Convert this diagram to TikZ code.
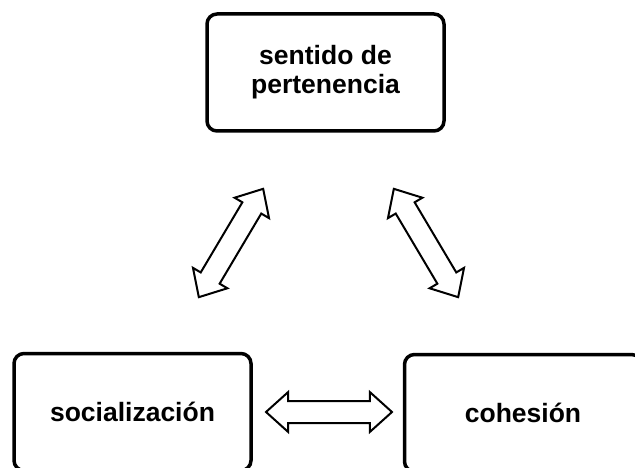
\documentclass[tikz,border=0pt]{standalone}
\usepackage{fontspec}
\setmainfont{Liberation Sans}
\usetikzlibrary{
  shapes.arrows,
  calc
}

\begin{document}
\begin{tikzpicture}[x=1pt,y=1pt,
	concept/.style={draw,line width=3.5pt,rounded corners=10pt,minimum width=237pt,minimum height=117pt,align=center,font=\fontsize{26.5}{29}\selectfont\bfseries},
	link/.style={draw,line width=2pt,double arrow,double arrow head extend=9pt,double arrow head indent=0pt,double arrow tip angle=84,minimum height=126pt,inner xsep=0pt,inner ysep=10pt}
	]
	\useasboundingbox (0,0) rectangle (635,-468);
	\node[concept] (sentido) at (325.5,-72.5) {sentido de\\pertenencia};
	\node[concept] (social) at (132.5,-412) {socializaci\'on};
	\node[concept] (cohesion) at (523,-413) {cohesi\'on};
	\node[link,rotate=59.3] (sentsoc) at (231,-243) {};
	\node[link,rotate=-59.3] (sentcoh) at (426,-243) {};
	\node[link] (soccoh) at (329,-412) {};
\end{tikzpicture}
\end{document}
